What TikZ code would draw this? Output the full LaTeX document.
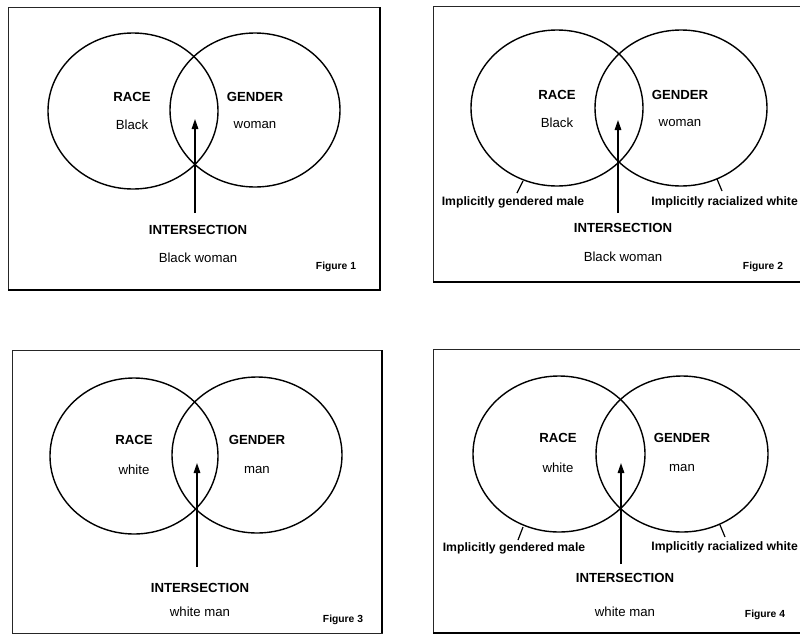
\documentclass[tikz,border=0pt]{standalone}
\usepackage{fontspec}
\setmainfont{Liberation Sans}
\usetikzlibrary{arrows.meta}
\tikzset{
  lbl/.style={inner sep=0pt, font=\bfseries\fontsize{13.2}{15}\selectfont},
  val/.style={inner sep=0pt, font=\fontsize{13.2}{15}\selectfont},
  fig/.style={inner sep=0pt, font=\bfseries\fontsize{10.3}{12}\selectfont},
  impl/.style={inner sep=0pt, font=\bfseries\fontsize{12.2}{14}\selectfont},
  ring/.style={draw=black, line width=1.4pt},
  frame/.style={draw=black!85, line width=0.9pt},
  heavy/.style={draw=black, line width=2.2pt},
  arr/.style={line width=1.5pt, -{Triangle[length=10pt,width=6.5pt]}},
  tick/.style={line width=1.2pt}
}
\begin{document}
\begin{tikzpicture}[x=1pt,y=-1pt]
\useasboundingbox (0,0) rectangle (800,635);
\clip (0,0) rectangle (800,635);
\fill[white] (0,0) rectangle (800,635);

% ---------------- Panel 1 ----------------
\draw[frame] (8,7) rectangle (380,290);
\draw[heavy] (8,290) -- (380,290) -- (380,7);
\draw[ring] (133,111) ellipse [x radius=85, y radius=78];
\draw[ring] (255,110) ellipse [x radius=85, y radius=77];
\node[lbl] (p1race) at (132,97) {RACE};
\node[val] (p1black) at (132,125) {Black};
\node[lbl] (p1gender) at (255,97) {GENDER};
\node[val] (p1woman) at (255,125) {woman};
\coordinate (p1a) at (195,213);
\coordinate (p1t) at (195,119);
\draw[arr] (p1a) -- (p1t);
\node[lbl] (p1int) at (198,230) {INTERSECTION};
\node[val] (p1res) at (198,258) {Black woman};
\node[fig] (p1fig) at (336,267) {Figure 1};

% ---------------- Panel 2 ----------------
\draw[frame] (810,6) -- (433,6) -- (433,282);
\draw[heavy] (433,282) -- (810,282);
\draw[ring] (557,108) ellipse [x radius=86, y radius=78];
\draw[ring] (681,108) ellipse [x radius=86, y radius=78];
\node[lbl] (p2race) at (557,95) {RACE};
\node[val] (p2black) at (557,123) {Black};
\node[lbl] (p2gender) at (680,95) {GENDER};
\node[val] (p2woman) at (680,123) {woman};
\coordinate (p2a) at (618,213);
\coordinate (p2t) at (618,120);
\draw[arr] (p2a) -- (p2t);
\node[impl] (p2impl1) at (513,202) {Implicitly gendered male};
\node[impl, anchor=east] (p2impl2) at (798,202) {Implicitly racialized white};
\coordinate (p2k1a) at (523,181);
\coordinate (p2k1b) at (517,193);
\draw[tick] (p2k1a) -- (p2k1b);
\coordinate (p2k2a) at (717,179);
\coordinate (p2k2b) at (722,191);
\draw[tick] (p2k2a) -- (p2k2b);
\node[lbl] (p2int) at (623,228) {INTERSECTION};
\node[val] (p2res) at (623,257) {Black woman};
\node[fig] (p2fig) at (763,267) {Figure 2};

% ---------------- Panel 3 ----------------
\draw[frame] (12,350) rectangle (382,633);
\draw[heavy] (382,350) -- (382,633);
\draw[ring] (134,456) ellipse [x radius=84, y radius=78];
\draw[ring] (257,455) ellipse [x radius=85, y radius=78];
\node[lbl] (p3race) at (134,440) {RACE};
\node[val] (p3white) at (134,470) {white};
\node[lbl] (p3gender) at (257,440) {GENDER};
\node[val] (p3man) at (257,470) {man};
\coordinate (p3a) at (197,567);
\coordinate (p3t) at (197,463);
\draw[arr] (p3a) -- (p3t);
\node[lbl] (p3int) at (200,588) {INTERSECTION};
\node[val] (p3res) at (200,612) {white man};
\node[fig] (p3fig) at (343,620) {Figure 3};

% ---------------- Panel 4 ----------------
\draw[frame] (810,349) -- (433,349) -- (433,633);
\draw[heavy] (433,633) -- (810,633);
\draw[ring] (559,454) ellipse [x radius=86, y radius=78];
\draw[ring] (682,454) ellipse [x radius=86, y radius=78];
\node[lbl] (p4race) at (558,438) {RACE};
\node[val] (p4white) at (558,468) {white};
\node[lbl] (p4gender) at (682,438) {GENDER};
\node[val] (p4man) at (682,468) {man};
\coordinate (p4a) at (621,564);
\coordinate (p4t) at (621,463);
\draw[arr] (p4a) -- (p4t);
\node[impl] (p4impl1) at (514,548) {Implicitly gendered male};
\node[impl, anchor=east] (p4impl2) at (798,547) {Implicitly racialized white};
\coordinate (p4k1a) at (523,527);
\coordinate (p4k1b) at (518,540);
\draw[tick] (p4k1a) -- (p4k1b);
\coordinate (p4k2a) at (720,525);
\coordinate (p4k2b) at (725,537);
\draw[tick] (p4k2a) -- (p4k2b);
\node[lbl] (p4int) at (625,578) {INTERSECTION};
\node[val] (p4res) at (625,612) {white man};
\node[fig] (p4fig) at (765,615) {Figure 4};
\end{tikzpicture}
\end{document}
